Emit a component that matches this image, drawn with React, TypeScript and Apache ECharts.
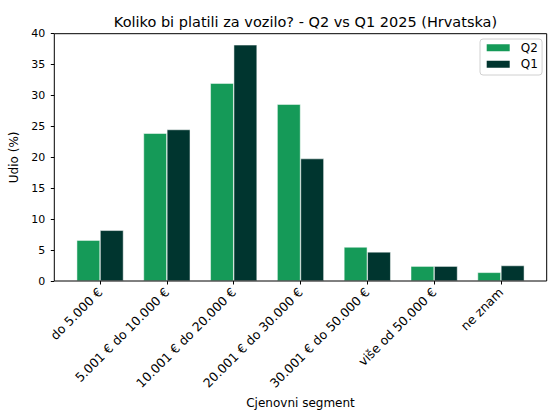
import React, { useEffect, useRef } from "react";
import * as echarts from "echarts";

const categories = [
  "do 5.000 €",
  "5.001 € do 10.000 €",
  "10.001 € do 20.000 €",
  "20.001 € do 30.000 €",
  "30.001 € do 50.000 €",
  "više od 50.000 €",
  "ne znam",
];
const q2Values = [6.6, 23.9, 32.0, 28.6, 5.5, 2.4, 1.4];
const q1Values = [8.2, 24.5, 38.2, 19.8, 4.7, 2.4, 2.5];
const yTicks = [0, 5, 10, 15, 20, 25, 30, 35, 40];

const FONT = "DejaVu Sans";

export default function App() {
  const ref = useRef<HTMLDivElement>(null);
  useEffect(() => {
    document.body.style.margin = "0";
    if (!ref.current) return;
    const chart = echarts.init(ref.current, undefined, { renderer: "svg" });
    const plotLeft = 54.3;
    const plotRight = 546.7;
    const plotTop = 33.7;
    const plotBottom = 281;
    const unit = (plotRight - plotLeft) / 7.37;
    const margin = 0.185 * unit;
    chart.setOption({
      animation: false,
      backgroundColor: "#fff",
      textStyle: { fontFamily: FONT },
      title: {
        text: "Koliko bi platili za vozilo? - Q2 vs Q1 2025 (Hrvatska)",
        left: (plotLeft + plotRight) / 2,
        textAlign: "center",
        top: 9,
        textStyle: { fontFamily: FONT, fontSize: 14.5, fontWeight: "normal", color: "#000" },
      },
      legend: {
        orient: "vertical",
        left: 480,
        top: 39,
        padding: [2.7, 4.3, 4.7, 4.7],
        itemWidth: 25,
        itemHeight: 9,
        itemGap: 4.6,
        borderColor: "#d0d0d0",
        borderWidth: 1,
        borderRadius: 3,
        backgroundColor: "rgba(255,255,255,0.8)",
        textStyle: { fontFamily: FONT, fontSize: 12, color: "#000", padding: [0, 0, 0, 5] },
        data: [
          { name: "Q2", icon: "rect" },
          { name: "Q1", icon: "rect" },
        ],
      },
      grid: {
        left: plotLeft + margin,
        right: 560 - (plotRight - margin),
        top: plotTop,
        bottom: 420 - plotBottom,
      },
      graphic: [
        {
          type: "rect",
          z: 100,
          silent: true,
          shape: { x: plotLeft, y: plotTop, width: plotRight - plotLeft, height: plotBottom - plotTop },
          style: { fill: "none", stroke: "#000", lineWidth: 1 },
        },
      ],
      xAxis: {
        type: "category",
        data: categories,
        boundaryGap: true,
        name: "Cjenovni segment",
        nameLocation: "middle",
        nameGap: 113,
        nameTextStyle: { fontFamily: FONT, fontSize: 12, color: "#000" },
        axisLine: { show: false },
        axisTick: { show: true, alignWithLabel: true, length: 3.5, lineStyle: { color: "#000" } },
        axisLabel: {
          rotate: 45,
          interval: 0,
          margin: 9,
          fontFamily: FONT,
          fontSize: 12.5,
          color: "#000",
        },
        splitLine: { show: false },
      },
      yAxis: {
        type: "value",
        min: 0,
        max: 40,
        interval: 5,
        offset: margin,
        name: "Udio (%)",
        nameLocation: "middle",
        nameGap: 30,
        nameTextStyle: { fontFamily: FONT, fontSize: 12, color: "#000" },
        axisLine: { show: false },
        axisTick: { show: true, length: 3.5, lineStyle: { color: "#000" } },
        axisLabel: {
          margin: 9,
          fontFamily: FONT,
          fontSize: 11,
          color: "#000",
          formatter: (v: number) => (yTicks.includes(v) ? String(v) : ""),
        },
        splitLine: { show: false },
      },
      series: [
        {
          name: "Q2",
          type: "bar",
          data: q2Values,
          barWidth: 0.35 * unit,
          barGap: "0%",
          itemStyle: { color: "#159A58", borderColor: "#ffffff", borderWidth: 0.5 },
        },
        {
          name: "Q1",
          type: "bar",
          data: q1Values,
          barWidth: 0.35 * unit,
          barGap: "0%",
          itemStyle: { color: "#00352F", borderColor: "#ffffff", borderWidth: 0.5 },
        },
      ],
    });
    return () => chart.dispose();
  }, []);
  return <div ref={ref} style={{ width: 560, height: 420 }} />;
}
